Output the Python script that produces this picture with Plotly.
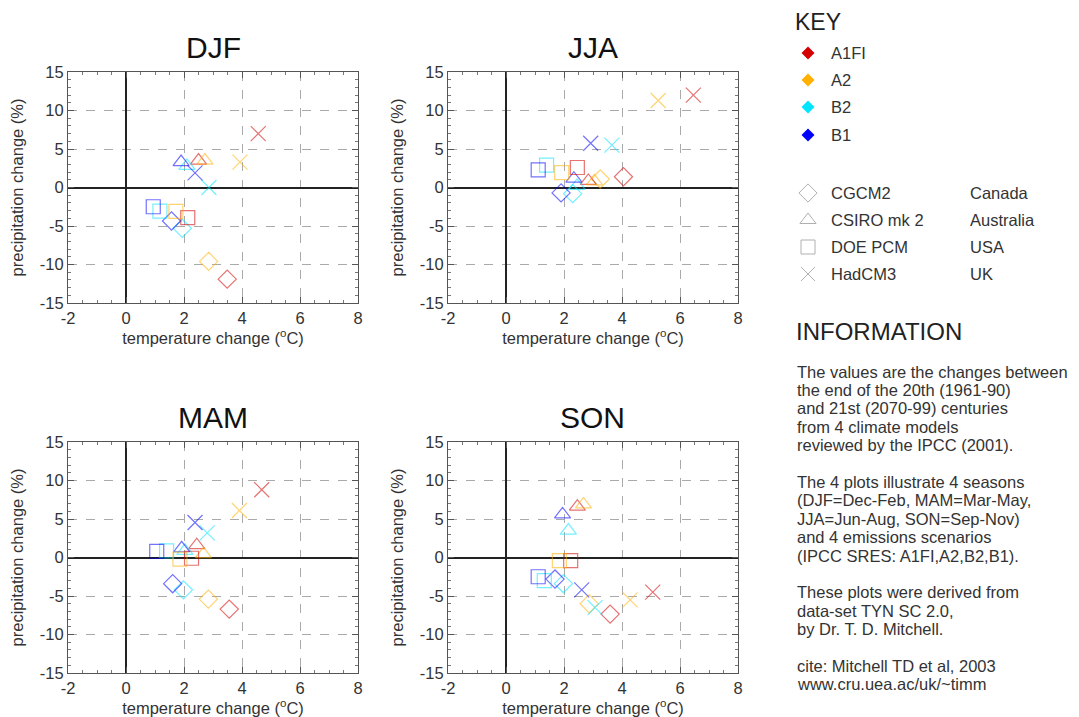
import plotly.graph_objects as go

# ---------------- data ----------------
seasons = ["DJF", "JJA", "MAM", "SON"]
scenarios = ["A1FI", "A2", "B2", "B1"]
scenario_colors = ["#d40000", "#ffb000", "#00e5ff", "#0000ff"]
models = ["CGCM2", "CSIRO mk 2", "DOE PCM", "HadCM3"]
countries = ["Canada", "Australia", "USA", "UK"]
model_symbols = ["diamond-open", "triangle-up-open", "square-open", "x-thin-open"]

# values ordered by scenario: A1FI, A2, B2, B1
djf_temp = {"CGCM2": [3.49, 2.85, 1.94, 1.57], "CSIRO mk 2": [2.50, 2.72, 2.10, 1.90],
            "DOE PCM": [2.13, 1.72, 1.17, 0.94], "HadCM3": [4.56, 3.93, 2.86, 2.38]}
djf_prec = {"CGCM2": [-11.9, -9.6, -5.3, -4.35], "CSIRO mk 2": [3.5, 3.5, 2.8, 3.3],
            "DOE PCM": [-3.9, -3.1, -3.06, -2.5], "HadCM3": [7.0, 3.3, 0.0, 1.9]}

jja_temp = {"CGCM2": [4.05, 3.25, 2.30, 1.90], "CSIRO mk 2": [2.84, 3.05, 2.45, 2.34],
            "DOE PCM": [2.46, 1.92, 1.40, 1.11], "HadCM3": [6.46, 5.25, 3.65, 2.92]}
jja_prec = {"CGCM2": [1.4, 1.1, -0.8, -0.7], "CSIRO mk 2": [0.85, 0.8, 0.2, 1.15],
            "DOE PCM": [2.6, 1.93, 2.9, 2.3], "HadCM3": [12.0, 11.3, 5.5, 5.75]}

mam_temp = {"CGCM2": [3.56, 2.84, 1.98, 1.61], "CSIRO mk 2": [2.44, 2.67, 2.03, 1.92],
            "DOE PCM": [2.26, 1.86, 1.40, 1.06], "HadCM3": [4.68, 3.91, 2.80, 2.38]}
mam_prec = {"CGCM2": [-6.7, -5.4, -4.2, -3.4], "CSIRO mk 2": [1.6, 0.45, 0.87, 1.2],
            "DOE PCM": [-0.1, -0.2, 0.87, 0.8], "HadCM3": [8.8, 6.1, 3.2, 4.55]}

son_temp = {"CGCM2": [3.59, 2.87, 1.98, 1.69], "CSIRO mk 2": [2.46, 2.67, 2.15, 1.95],
            "DOE PCM": [2.23, 1.84, 1.32, 1.11], "HadCM3": [5.06, 4.28, 3.07, 2.61]}
son_prec = {"CGCM2": [-7.35, -6.0, -3.4, -2.8], "CSIRO mk 2": [6.6, 6.9, 3.5, 5.6],
            "DOE PCM": [-0.4, -0.4, -3.0, -2.5], "HadCM3": [-4.5, -5.5, -6.5, -4.2]}

season_data = {"DJF": (djf_temp, djf_prec), "JJA": (jja_temp, jja_prec),
               "MAM": (mam_temp, mam_prec), "SON": (son_temp, son_prec)}

x_ticks = [-2, 0, 2, 4, 6, 8]
x_tick_labels = ["-2", "0", "2", "4", "6", "8"]
y_ticks = [-15, -10, -5, 0, 5, 10, 15]
y_tick_labels = ["-15", "-10", "-5", "0", "5", "10", "15"]

info_lines = [
    "The values are the changes between",
    "the end of the 20th (1961-90)",
    "and 21st (2070-99) centuries",
    "from 4 climate models",
    "reviewed by the IPCC (2001).",
    "",
    "The 4 plots illustrate 4 seasons",
    "(DJF=Dec-Feb, MAM=Mar-May,",
    "JJA=Jun-Aug, SON=Sep-Nov)",
    "and 4 emissions scenarios",
    "(IPCC SRES: A1FI,A2,B2,B1).",
    "",
    "These plots were derived from",
    "data-set TYN SC 2.0,",
    "by Dr. T. D. Mitchell.",
    "",
    "cite: Mitchell TD et al, 2003",
    "www.cru.uea.ac/uk/~timm",
]

# ---------------- layout helpers ----------------
OFF = 8                      # page body margin in the browser
W, H = 1079 - OFF, 717 - OFF
FONT = "Liberation Sans, Arial, Helvetica, sans-serif"
SMALL = 16.5


def fx(px):
    return (px - OFF) / W


def fy(py):
    return 1 - (py - OFF) / H


# panel pixel boxes on screen: (left, right, top, bottom)
panel_px = {"DJF": (68, 358, 72, 303), "JJA": (448, 738, 72, 303),
            "MAM": (68, 358, 442, 673), "SON": (448, 738, 442, 673)}

fig = go.Figure()
layout = dict(width=W, height=H, margin=dict(l=0, r=0, t=0, b=0, autoexpand=False),
              paper_bgcolor="white", plot_bgcolor="rgba(0,0,0,0)", showlegend=False,
              font=dict(family=FONT, color="#333333"))
annotations = []

for i, s in enumerate(seasons):
    n = i + 1
    l, r, t, b = panel_px[s]
    xa = "xaxis" if n == 1 else f"xaxis{n}"
    ya = "yaxis" if n == 1 else f"yaxis{n}"
    xref = "x" if n == 1 else f"x{n}"
    yref = "y" if n == 1 else f"y{n}"
    common = dict(showline=True, linecolor="#555555", linewidth=1, mirror="ticks",
                  ticks="inside", ticklen=6, tickcolor="#555555",
                  showgrid=True, gridcolor="#aaaaaa", griddash="dash", gridwidth=1,
                  zeroline=True, zerolinecolor="#222222", zerolinewidth=2,
                  tickfont=dict(size=SMALL, color="#333333", family=FONT),
                  fixedrange=True, automargin=False)
    layout[xa] = dict(common, domain=[fx(l), fx(r)], anchor=yref, range=[-2, 8],
                      tickvals=x_ticks, ticktext=x_tick_labels,
                      minor=dict(dtick=0.5, ticks="inside", ticklen=3, tickcolor="#777777", showgrid=False),
                      title=dict(text="temperature change (<sup>o</sup>C)",
                                 font=dict(size=SMALL, color="#333333"), standoff=0))
    layout[ya] = dict(common, domain=[fy(b), fy(t)], anchor=xref, range=[-15, 15],
                      tickvals=y_ticks, ticktext=y_tick_labels,
                      minor=dict(dtick=1, ticks="inside", ticklen=3, tickcolor="#777777", showgrid=False),
                      title=dict(text="precipitation change (%)",
                                 font=dict(size=SMALL, color="#333333"), standoff=12))
    annotations.append(dict(text=s, x=fx((l + r) / 2), y=fy(t - 25), xref="paper", yref="paper",
                            showarrow=False, font=dict(size=30, color="#111111", family=FONT),
                            xanchor="center", yanchor="middle"))
    temp, prec = season_data[s]
    for mi, m in enumerate(models):
        for si, sc in enumerate(scenarios):
            fig.add_trace(go.Scatter(
                x=[temp[m][si]], y=[prec[m][si]], mode="markers", xaxis=xref, yaxis=yref,
                name=f"{sc} {m}", opacity=0.55, hoverinfo="x+y+name",
                marker=dict(symbol=model_symbols[mi], size=15 if mi == 3 else 14,
                            color=scenario_colors[si],
                            line=dict(width=1.2, color=scenario_colors[si]))))

# ---------------- key (pixel-scaled hidden axes) ----------------
layout["xaxis5"] = dict(domain=[0, 1], range=[OFF, OFF + W], visible=False, fixedrange=True,
                        anchor="y5", automargin=False)
layout["yaxis5"] = dict(domain=[0, 1], range=[OFF + H, OFF], visible=False, fixedrange=True,
                        anchor="x5", automargin=False)

key_x = 808
scen_rows = [53, 80, 107, 135]
model_rows = [193, 220, 247, 274]
fig.add_trace(go.Scatter(x=[key_x] * len(scenarios), y=scen_rows, mode="markers", xaxis="x5", yaxis="y5",
                         hoverinfo="skip",
                         marker=dict(symbol="diamond", size=10, color=scenario_colors,
                                     line=dict(width=0))))
fig.add_trace(go.Scatter(x=[key_x] * len(models), y=model_rows, mode="markers", xaxis="x5", yaxis="y5",
                         hoverinfo="skip",
                         marker=dict(symbol=model_symbols, size=14, color="#b0b0b0",
                                     line=dict(width=1, color="#b0b0b0"))))


def px_annot(text, x, y, size, color="#333333"):
    return dict(text=text, x=fx(x), y=fy(y), xref="paper", yref="paper", showarrow=False,
                xanchor="left", yanchor="middle", align="left",
                font=dict(size=size, color=color, family=FONT))


key_title = px_annot("KEY", 794, OFF, 23, "#222222")
key_title.update(yanchor="top", borderpad=0)
annotations.append(key_title)
for sc, yy in zip(scenarios, scen_rows):
    annotations.append(px_annot(sc, 829, yy, SMALL))
for m, c, yy in zip(models, countries, model_rows):
    annotations.append(px_annot(m, 829, yy, SMALL))
    annotations.append(px_annot(c, 968, yy, SMALL))

annotations.append(px_annot("INFORMATION", 794, 332, 24, "#222222"))
y0 = 371.5
for k, line in enumerate(info_lines):
    if line:
        annotations.append(px_annot(line, 795, y0 + k * 18.4, SMALL))

layout["annotations"] = annotations
fig.update_layout(**layout)
fig.write_html("out.html")
